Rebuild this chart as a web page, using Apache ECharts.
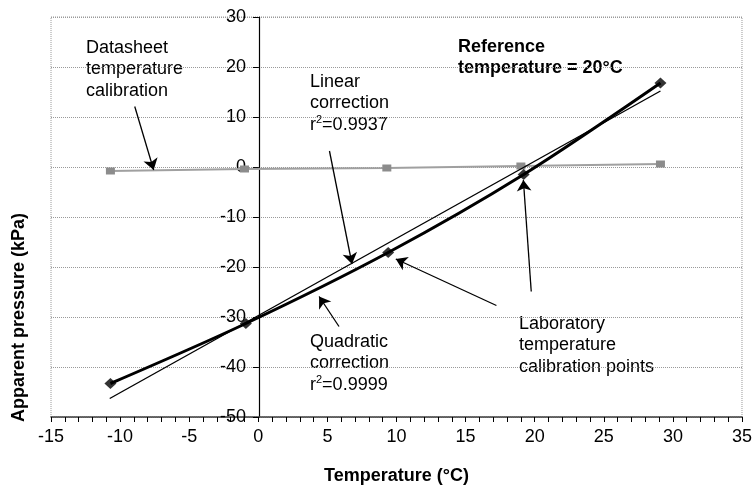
<!DOCTYPE html>
<html>
<head>
<meta charset="utf-8">
<script src="https://cdn.jsdelivr.net/npm/echarts@6/dist/echarts.min.js"></script>
<style>
  html, body { margin: 0; padding: 0; background: #fff; }
  #main { width: 755px; height: 490px; }
</style>
</head>
<body>
<div id="main"></div>
<script>
// datasheet temperature calibration (grey, squares)
var datasheetX = [-10.7, -1.0, 9.3, 19.0, 29.1];
var datasheetY = [-0.8, -0.4, -0.2, 0.2, 0.6];

// laboratory temperature calibration points (black diamonds)
var labX = [-10.7, -0.9, 9.4, 19.2, 29.1];
var labY = [-43.3, -31.3, -17.1, -1.5, 16.8];

// linear correction line end points
var linearX = [-10.75, 29.1];
var linearY = [-46.3, 15.2];

// annotation arrows: [fromX, fromY, toX, toY]
var arrows = [
    [-8.94, 12.1, -7.57, -0.6],
    [5.15, 3.2, 6.78, -19.4],
    [5.84, -31.9, 4.4, -25.9],
    [17.23, -27.7, 9.95, -18.4],
    [19.75, -24.9, 19.18, -2.6]
];

var xTicks = { min: -15, max: 35, step: 5 };
var yTicks = { min: -50, max: 30, step: 10 };

function pairs(xs, ys) {
    return xs.map(function (x, i) { return [x, ys[i]]; });
}

var fontFamily = '"Liberation Sans", Arial, sans-serif';
var textStyle = { fontFamily: fontFamily, fontSize: 18, fill: '#000', lineHeight: 21.5 };

var gridLeft = 51, gridRight = 11;
// the value axis crosses at x = 0: shift it from the left edge of the grid
var plotWidth = 755 - gridLeft - gridRight;
var yAxisShift = -plotWidth * (0 - xTicks.min) / (xTicks.max - xTicks.min);

var chartDom = document.getElementById('main');
var myChart = echarts.init(chartDom);
var option;

option = {
    animation: false,
    backgroundColor: '#fff',
    textStyle: { fontFamily: fontFamily },
    grid: {
        left: gridLeft,
        right: gridRight,
        top: 17,
        bottom: 67,
        show: true,
        borderColor: '#999',
        borderWidth: 1,
        borderType: 'dotted'
    },
    xAxis: {
        type: 'value',
        min: xTicks.min,
        max: xTicks.max,
        interval: xTicks.step,
        name: 'Temperature (°C)',
        nameLocation: 'middle',
        nameGap: 50,
        nameTextStyle: { fontSize: 18, fontWeight: 'bold', color: '#000' },
        axisLine: { onZero: false, lineStyle: { color: '#444', width: 1.5 } },
        axisTick: { show: true, length: 5, lineStyle: { color: '#000' } },
        minorTick: { show: true, splitNumber: 5, length: 5, lineStyle: { color: '#000' } },
        axisLabel: { fontSize: 18, color: '#000', margin: 11 },
        splitLine: { show: false }
    },
    yAxis: {
        type: 'value',
        min: yTicks.min,
        max: yTicks.max,
        interval: yTicks.step,
        offset: yAxisShift,
        axisLine: { show: true, onZero: false, lineStyle: { color: '#000', width: 1.2 } },
        axisTick: { show: true, length: 6, lineStyle: { color: '#000' } },
        axisLabel: { fontSize: 18, color: '#000', margin: 13 },
        splitLine: { show: true, lineStyle: { color: '#999', type: 'dotted' } }
    },
    graphic: [
        { type: 'text', left: 86, top: 37, style: Object.assign({ text: 'Datasheet\ntemperature\ncalibration' }, textStyle) },
        { type: 'text', left: 310, top: 71, style: Object.assign({ text: 'Linear\ncorrection\nr{sup|2}=0.9937', rich: { sup: { fontSize: 11, verticalAlign: 'top', lineHeight: 21.5 } } }, textStyle) },
        { type: 'text', left: 458, top: 36, style: Object.assign({ text: 'Reference\ntemperature = 20°C', fontWeight: 'bold' }, textStyle) },
        { type: 'text', left: 310, top: 331, style: Object.assign({ text: 'Quadratic\ncorrection\nr{sup|2}=0.9999', rich: { sup: { fontSize: 11, verticalAlign: 'top', lineHeight: 21.5 } } }, textStyle) },
        { type: 'text', left: 519, top: 313, style: Object.assign({ text: 'Laboratory\ntemperature\ncalibration points' }, textStyle) },
        { type: 'text', left: 10, top: 213, rotation: Math.PI / 2, originX: 0, originY: 0,
          style: { text: 'Apparent pressure (kPa)', fontFamily: fontFamily, fontSize: 18, fontWeight: 'bold', fill: '#000', align: 'center', verticalAlign: 'middle' } }
    ],
    series: [
        {
            name: 'Datasheet',
            type: 'line',
            data: pairs(datasheetX, datasheetY),
            symbol: 'rect',
            symbolSize: [9, 7],
            itemStyle: { color: '#8c8c8c' },
            lineStyle: { color: '#a0a0a0', width: 1.8 },
            z: 2
        },
        {
            name: 'Linear correction',
            type: 'line',
            data: pairs(linearX, linearY),
            symbol: 'none',
            lineStyle: { color: '#000', width: 1.4 },
            z: 3,
            markLine: {
                silent: true,
                symbol: ['none', 'arrow'],
                symbolSize: 11,
                label: { show: false },
                lineStyle: { color: '#000', width: 1.3, type: 'solid' },
                data: arrows.map(function (a) {
                    return [{ coord: [a[0], a[1]] }, { coord: [a[2], a[3]] }];
                })
            }
        },
        {
            name: 'Quadratic correction',
            type: 'line',
            data: pairs(labX, labY),
            smooth: 0.3,
            symbol: 'none',
            lineStyle: { color: '#000', width: 3 },
            z: 4
        },
        {
            name: 'Laboratory points',
            type: 'scatter',
            data: pairs(labX, labY),
            symbol: 'diamond',
            symbolSize: [12, 11],
            itemStyle: { color: '#000' },
            z: 5
        }
    ]
};

option && myChart.setOption(option);
</script>
</body>
</html>
